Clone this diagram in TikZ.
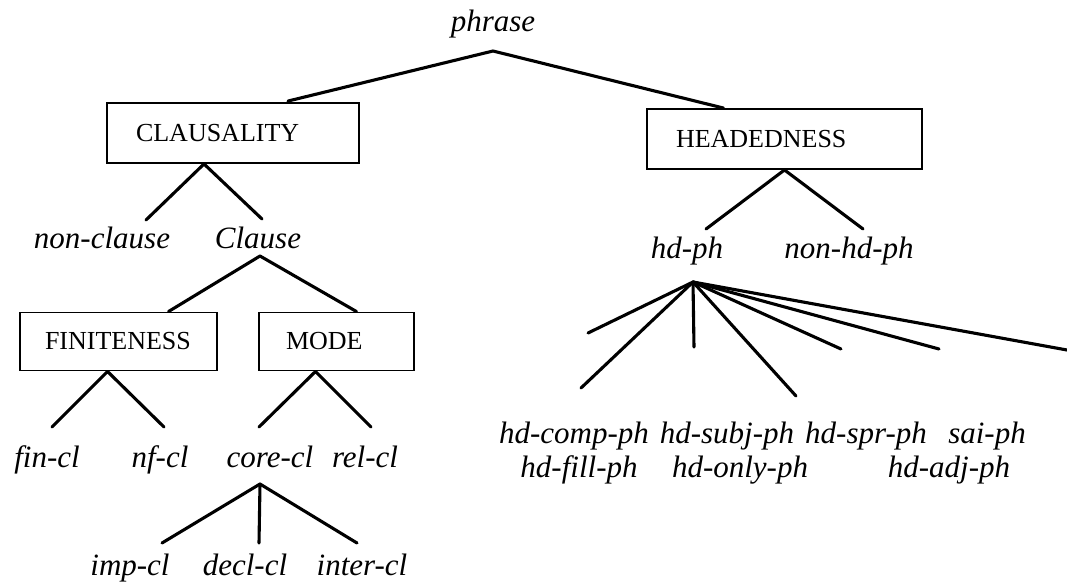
\documentclass[tikz,border=0pt]{standalone}
\usepackage{fontspec}
\setmainfont{Liberation Serif}
\usetikzlibrary{calc}
\begin{document}
\begin{tikzpicture}[x=1pt,y=-1pt,
  leaf/.style={anchor=base,inner sep=0pt,text height=22pt,text depth=7pt,
    font=\fontsize{31}{37}\selectfont\itshape},
  typebox/.style={draw,line width=1.9pt,inner ysep=0pt,align=left,
    font=\fontsize{26}{30}\selectfont},
  branch/.style={line width=3.1pt,line join=round,line cap=round}]
\useasboundingbox[fill=white] (0,0) rectangle (1067,582);

% root
\node[leaf] (phrase) at (493,31) {phrase};

% partition boxes
\node[typebox,minimum height=60pt,text width=194pt,inner xsep=29pt] (clausality) at (233,133) {CLAUSALITY};
\node[typebox,minimum height=60pt,text width=217pt,inner xsep=29pt] (headedness) at (784.5,139) {HEADEDNESS};
\node[typebox,minimum height=58pt,text width=147pt,inner xsep=25pt] (finiteness) at (118.5,341.5) {FINITENESS};
\node[typebox,minimum height=58pt,text width=101pt,inner xsep=27pt] (mode) at (336.5,341.5) {MODE};

% clause types
\node[leaf] (nonclause) at (102,248) {non-clause};
\node[leaf] (clause) at (258,248) {Clause};
\node[leaf] (fincl) at (47,467) {fin-cl};
\node[leaf] (nfcl) at (160,467) {nf-cl};
\node[leaf] (corecl) at (270,467) {core-cl};
\node[leaf] (relcl) at (365,467) {rel-cl};
\node[leaf] (impcl) at (130,575) {imp-cl};
\node[leaf] (declcl) at (245,575) {decl-cl};
\node[leaf] (intercl) at (362,575) {inter-cl};

% headedness types
\node[leaf] (hdph) at (687,258) {hd-ph};
\node[leaf] (nonhdph) at (849,258) {non-hd-ph};
\node[leaf] (hdcomp) at (574,443) {hd-comp-ph};
\node[leaf] (hdfill) at (579,477) {hd-fill-ph};
\node[leaf] (hdsubj) at (727,443) {hd-subj-ph};
\node[leaf] (hdonly) at (740,477) {hd-only-ph};
\node[leaf] (hdspr) at (866,443) {hd-spr-ph};
\node[leaf] (saiph) at (987,443) {sai-ph};
\node[leaf] (hdadj) at (949,477) {hd-adj-ph};

% loose ends of the hd-ph fan
\coordinate (fan1) at (588,333);
\coordinate (fan2) at (581,388);
\coordinate (fan3) at (694,347);
\coordinate (fan4) at (796,396);
\coordinate (fan5) at (841,349);
\coordinate (fan6) at (939,349);
\coordinate (fan7) at (1067,350);

% branches
\draw[branch] ($(clausality.north)+(55,-1)$) -- ($(phrase.base)+(0,20)$) -- ($(headedness.north)+(-61,0)$);

\draw[branch] ($(nonclause.base)+(44,-28)$) -- ($(clausality.south)+(-29,0)$) -- ($(clause.base)+(4,-29)$);
\draw[branch] ($(finiteness.north)+(50,0)$) -- ($(clause.base)+(2,8)$) -- ($(mode.north)+(20,0)$);

\draw[branch] ($(fincl.base)+(5,-40)$) -- ($(finiteness.south)+(-11,0)$) -- ($(nfcl.base)+(4,-40)$);
\draw[branch] ($(corecl.base)+(-11,-40)$) -- ($(mode.south)+(-21,0)$) -- ($(relcl.base)+(6,-40)$);

\coordinate (coreapex) at ($(corecl.base)+(-10,17)$);
\draw[branch] (coreapex) -- ($(impcl.base)+(32,-32)$);
\draw[branch] (coreapex) -- ($(declcl.base)+(14,-32)$);
\draw[branch] (coreapex) -- ($(intercl.base)+(-5,-32)$);

\draw[branch] ($(hdph.base)+(19,-29)$) -- (headedness.south) -- ($(nonhdph.base)+(14,-29)$);

\coordinate (hdapex) at ($(hdph.base)+(6,24)$);
\foreach \f in {fan1,fan2,fan3,fan4,fan5,fan6,fan7}
  \draw[branch] (hdapex) -- (\f);
\end{tikzpicture}
\end{document}
